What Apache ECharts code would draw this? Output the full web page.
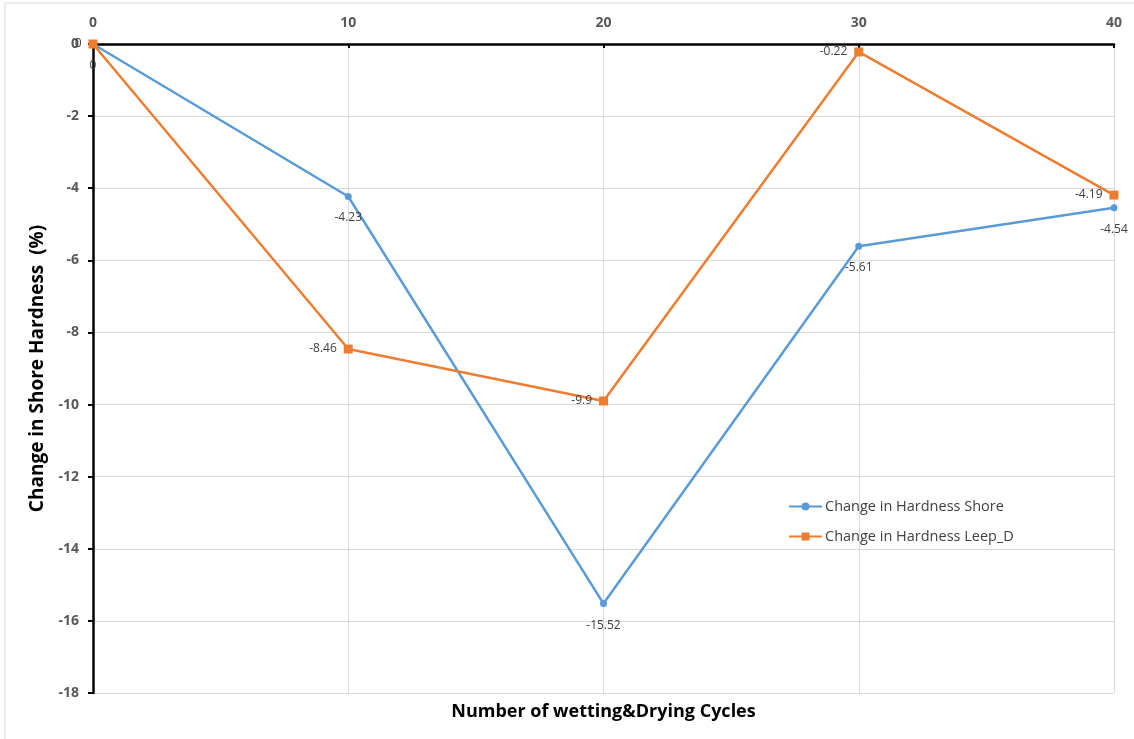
<!DOCTYPE html>
<html>
<head>
<meta charset="utf-8">
<script src="https://cdn.jsdelivr.net/npm/echarts@6/dist/echarts.min.js"></script>
<style>
  html, body { margin: 0; padding: 0; background: #ffffff; }
  #chart { width: 1134px; height: 739px; }
</style>
</head>
<body>
<div id="chart"></div>
<script>
// Wetting & drying cycles (x) and percentage change in hardness (y)
const cycles = [0, 10, 20, 30, 40];
const shoreChange = [0, -4.23, -15.52, -5.61, -4.54];
const leepChange = [0, -8.46, -9.9, -0.22, -4.19];
const seriesNames = ['Change in Hardness Shore', 'Change in Hardness Leep_D'];
const xTitle = 'Number of wetting&Drying Cycles';
const yTitle = 'Change in Shore Hardness  (%)';

const FONT = '"Open Sans", "Liberation Sans", sans-serif';
const BLUE = '#5B9BD5';
const ORANGE = '#ED7D31';

const GRID = { left: 93, right: 20, top: 44, bottom: 46 };
const W = 1134;

const toPairs = (vals) => cycles.map((c, i) => [c, vals[i]]);

const chart = echarts.init(document.getElementById('chart'), null, { renderer: 'canvas' });

chart.setOption({
  animation: false,
  backgroundColor: '#ffffff',
  textStyle: { fontFamily: FONT },
  graphic: [
    {
      type: 'rect',
      shape: { x: 5, y: 3, width: 1140, height: 750 },
      style: { fill: 'none', stroke: '#d9d9d9', lineWidth: 1 },
      silent: true,
      z: -1
    },
    {
      // x-axis title sits below the plot, while the axis itself runs along y = 0 at the top
      type: 'text',
      x: GRID.left + (W - GRID.left - GRID.right) / 2,
      y: 712,
      style: {
        text: xTitle,
        font: 'bold 18px ' + FONT,
        fill: '#000000',
        align: 'center',
        verticalAlign: 'middle'
      },
      silent: true
    }
  ],
  grid: Object.assign({ containLabel: false, outerBoundsMode: 'none' }, GRID),
  legend: {
    orient: 'vertical',
    left: 783,
    top: 494,
    itemGap: 15,
    itemWidth: 33,
    itemHeight: 10,
    textStyle: { fontFamily: FONT, fontSize: 14.5, color: '#404040', padding: [0, 0, 0, -2] },
    data: seriesNames
  },
  xAxis: {
    type: 'value',
    position: 'top',
    min: 0,
    max: 40,
    interval: 10,
    axisLine: { show: true, onZero: false, lineStyle: { color: '#000000', width: 2.5 } },
    axisTick: { show: true, inside: true, length: 4, lineStyle: { color: '#000000', width: 2 } },
    axisLabel: { color: '#595959', fontSize: 14, fontWeight: 'bold', margin: 14, fontFamily: FONT },
    splitLine: { show: true, lineStyle: { color: '#d9d9d9', width: 1 } }
  },
  yAxis: {
    type: 'value',
    min: -18,
    max: 0,
    interval: 2,
    name: yTitle,
    nameLocation: 'middle',
    nameGap: 37,
    nameRotate: 90,
    nameTextStyle: { fontFamily: FONT, fontSize: 19, fontWeight: 'bold', color: '#000000' },
    axisLine: { show: true, onZero: false, lineStyle: { color: '#000000', width: 2.5 } },
    axisTick: { show: true, inside: false, length: 5, lineStyle: { color: '#000000', width: 2 } },
    axisLabel: { color: '#595959', fontSize: 14, fontWeight: 'bold', margin: 14, fontFamily: FONT },
    splitLine: { show: true, lineStyle: { color: '#d9d9d9', width: 1 } }
  },
  series: [
    {
      name: seriesNames[0],
      type: 'line',
      data: toPairs(shoreChange),
      symbol: 'circle',
      symbolSize: 7,
      itemStyle: { color: BLUE },
      lineStyle: { color: BLUE, width: 2.5 },
      label: {
        show: true,
        position: 'bottom',
        distance: 12,
        color: '#404040',
        fontSize: 12,
        fontFamily: FONT,
        formatter: (p) => String(p.value[1])
      },
      z: 3
    },
    {
      name: seriesNames[1],
      type: 'line',
      data: toPairs(leepChange),
      symbol: 'rect',
      symbolSize: 9,
      itemStyle: { color: ORANGE },
      lineStyle: { color: ORANGE, width: 2.5 },
      label: {
        show: true,
        position: 'left',
        distance: 7,
        color: '#404040',
        fontSize: 12,
        fontFamily: FONT,
        formatter: (p) => String(p.value[1])
      },
      z: 4
    }
  ]
});
</script>
</body>
</html>
